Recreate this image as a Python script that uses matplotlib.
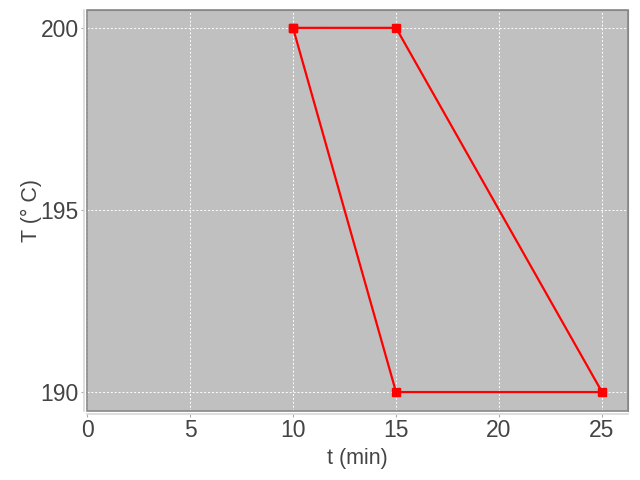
import matplotlib
matplotlib.use("Agg")
import matplotlib.pyplot as plt
from matplotlib.patches import Rectangle

t_min = [10, 15, 25, 15, 10]
temp_c = [200, 200, 190, 190, 200]
x_ticks = [0, 5, 10, 15, 20, 25]
y_ticks = [190, 195, 200]

plt.rcParams['font.family'] = ['Liberation Sans', 'DejaVu Sans']

fig = plt.figure(figsize=(6.4, 4.8), dpi=100)
ax = fig.add_axes([87/640, 1-411/480, (628-87)/640, (411-10)/480])
ax.set_facecolor('#c0c0c0')

ax.plot(t_min, temp_c, color='red', lw=1.6, marker='s', ms=6, zorder=3)

ax.set_xlim(0, 26.26)
ax.set_ylim(189.48, 200.49)
ax.set_xticks(x_ticks)
ax.set_yticks(y_ticks)
ax.grid(True, color='white', ls=(0, (2, 2)), lw=0.7)
ax.set_axisbelow(True)

for s in ['left', 'bottom']:
    ax.spines[s].set_position(('outward', 2.5))
    ax.spines[s].set_color('#d8d8d8')
    ax.spines[s].set_linewidth(1.2)
for s in ['top', 'right']:
    ax.spines[s].set_color('#888888')
ax.add_patch(Rectangle((0, 0), 1, 1, transform=ax.transAxes, fill=False,
                       edgecolor='#888888', lw=1.2, clip_on=False, zorder=4))

ax.tick_params(axis='both', colors='#aaaaaa', labelcolor='#444444',
               labelsize=16.5, length=2, width=0.8, pad=1.5)
ax.set_xlabel('t (min)', fontsize=15.5, color='#444444', labelpad=4)
ax.set_ylabel('T (° C)', fontsize=15.5, color='#444444', labelpad=-1)

fig.savefig('out.png', dpi=100)
